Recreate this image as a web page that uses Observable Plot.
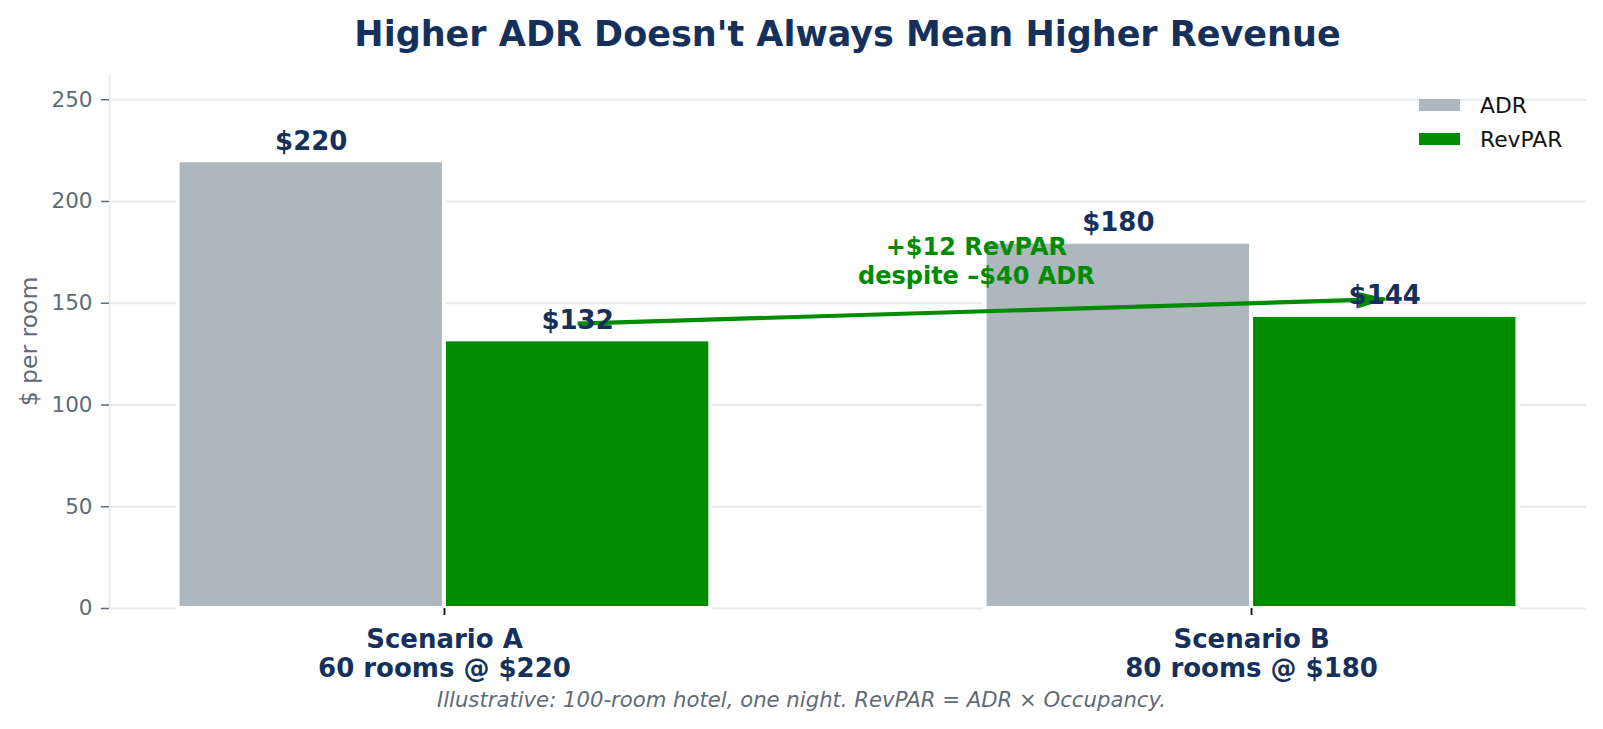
<!DOCTYPE html>
<html>
<head>
<meta charset="utf-8">
<script src="https://cdn.jsdelivr.net/npm/d3@7"></script>
<script src="https://cdn.jsdelivr.net/npm/@observablehq/plot@0.6"></script>
<style>
  html, body { margin: 0; padding: 0; background: #ffffff; }
  body { font-family: "DejaVu Sans", sans-serif; }
  #wrap { position: relative; width: 1603px; height: 729px; overflow: hidden; }
  #title {
    box-sizing: border-box; width: 1603px; height: 55px;
    padding: 13px 17px 0 109px; text-align: center;
    font-size: 35px; line-height: 42px; font-weight: bold; color: #15315b;
    white-space: nowrap;
  }
  #chart svg { display: block; }
  #legend { position: absolute; left: 1419px; top: 88px; }
  .lrow { display: flex; align-items: center; height: 34px; }
  .sw { width: 41px; height: 12px; margin-right: 20px; }
  .ltxt { font-size: 21.8px; color: #111111; }
  #caption {
    width: 1603px; text-align: center; margin-top: 4px;
    font-size: 21.2px; line-height: 26px; font-style: italic; color: #5f6b76;
  }
</style>
</head>
<body>
<div id="wrap">
  <div id="title"></div>
  <div id="chart"></div>
  <div id="legend"></div>
  <div id="caption"></div>
</div>
<script>
// ---- data ----
const titleText = "Higher ADR Doesn't Always Mean Higher Revenue";
const scenarioLabels = ["Scenario A\n60 rooms @ $220", "Scenario B\n80 rooms @ $180"];
const metrics = ["ADR", "RevPAR"];
const adrValues = [220, 180];
const revparValues = [132, 144];
const yTicks = [0, 50, 100, 150, 200, 250];
const yLabel = "$ per room";
const annotationText = "+$12 RevPAR\ndespite –$40 ADR";
const captionText = "Illustrative: 100-room hotel, one night. RevPAR = ADR × Occupancy.";
const metricColors = ["#adb7bd", "#008c00"];

// ---- style constants ----
const navy = "#15315b";
const grayText = "#5f6b76";
const gridColor = "#e5eaee";
const green = metricColors[1];
const W = 0.33;               // bar width in category units
const xDomain = [-0.415, 1.415];
const yMax = 262.4;

const rows = [];
scenarioLabels.forEach((s, i) => {
  [adrValues[i], revparValues[i]].forEach((v, j) => {
    rows.push({i, j, scenario: s, metric: metrics[j], value: v});
  });
});
const barLeft = d => d.i - W + d.j * W;
const barCenter = d => barLeft(d) + W / 2;

const arrowData = [{
  x1: 0 + W / 2, y1: revparValues[0] + 8,
  x2: 1 + W / 2, y2: revparValues[1] + 8
}];
const annX = 0.659, annY = 171.2;

document.getElementById("title").textContent = titleText;
document.getElementById("caption").textContent = captionText;
const legend = document.getElementById("legend");
metrics.forEach((m, k) => {
  const row = document.createElement("div"); row.className = "lrow";
  const sw = document.createElement("div"); sw.className = "sw"; sw.style.background = metricColors[k];
  const t = document.createElement("span"); t.className = "ltxt"; t.textContent = m;
  row.appendChild(sw); row.appendChild(t); legend.appendChild(row);
});

function headMarker(color) {
  const ns = "http://www.w3.org/2000/svg";
  const m = document.createElementNS(ns, "marker");
  m.setAttribute("viewBox", "-30 -10 34 20");
  m.setAttribute("markerWidth", 34);
  m.setAttribute("markerHeight", 20);
  m.setAttribute("markerUnits", "userSpaceOnUse");
  m.setAttribute("orient", "auto");
  m.setAttribute("refX", 0);
  m.setAttribute("refY", 0);
  m.setAttribute("overflow", "visible");
  const p = document.createElementNS(ns, "path");
  p.setAttribute("d", "M-26,-8L3,0L-26,8Z");
  p.setAttribute("fill", color);
  p.setAttribute("stroke", "none");
  m.appendChild(p);
  return m;
}

function build(marker) {
  return Plot.plot({
    width: 1603,
    height: 628,
    marginLeft: 109,
    marginRight: 17,
    marginTop: 19,
    marginBottom: 75,
    style: {fontFamily: "DejaVu Sans, sans-serif", background: "#ffffff", overflow: "visible"},
    x: {type: "linear", domain: xDomain, axis: null},
    y: {domain: [0, yMax], axis: null},
    color: {domain: metrics, range: metricColors},
    marks: [
      Plot.gridY(yTicks.slice(1), {stroke: gridColor, strokeOpacity: 1, strokeWidth: 1.8}),
      Plot.ruleY([0], {stroke: gridColor, strokeWidth: 1.8}),
      Plot.ruleX([xDomain[0]], {y1: 0, y2: yMax, stroke: gridColor, strokeWidth: 1.8}),
      Plot.rectY(rows, {
        x1: barLeft, x2: d => barLeft(d) + W, y1: 0, y2: "value",
        fill: "metric", stroke: "#ffffff", strokeWidth: 4
      }),
      Plot.link(arrowData, {
        x1: "x1", y1: "y1", x2: "x2", y2: "y2",
        stroke: green, strokeWidth: 4.2, markerEnd: marker
      }),
      Plot.text(rows, {
        x: barCenter, y: "value", text: d => "$" + d.value,
        lineAnchor: "bottom", dy: -11,
        fontSize: 26, fontWeight: "bold", fill: navy
      }),
      Plot.text([annotationText], {
        x: () => annX, y: () => annY, text: d => d,
        textAnchor: "middle", lineAnchor: "middle", lineHeight: 1.21,
        fontSize: 24, fontWeight: "bold", fill: green
      }),
      Plot.axisY(yTicks, {
        tickSize: 8, tickPadding: 9, fontSize: 21.5,
        fill: grayText, stroke: grayText, strokeWidth: 1.5, label: null
      }),
      Plot.axisX([0, 1], {
        tickSize: 7, tickPadding: 11, fontSize: 26, fontWeight: "bold",
        lineHeight: 1.14, fill: navy, stroke: "#111111", strokeWidth: 1.8,
        tickFormat: i => scenarioLabels[i], label: null
      }),
      Plot.text([yLabel], {
        frameAnchor: "left", text: d => d, rotate: -90, dx: -80,
        fontSize: 23.5, fill: grayText, textAnchor: "middle"
      })
    ]
  });
}

let chart;
try {
  chart = build(headMarker);
} catch (e) {
  chart = build("arrow");
}
document.getElementById("chart").appendChild(chart);
</script>
</body>
</html>
